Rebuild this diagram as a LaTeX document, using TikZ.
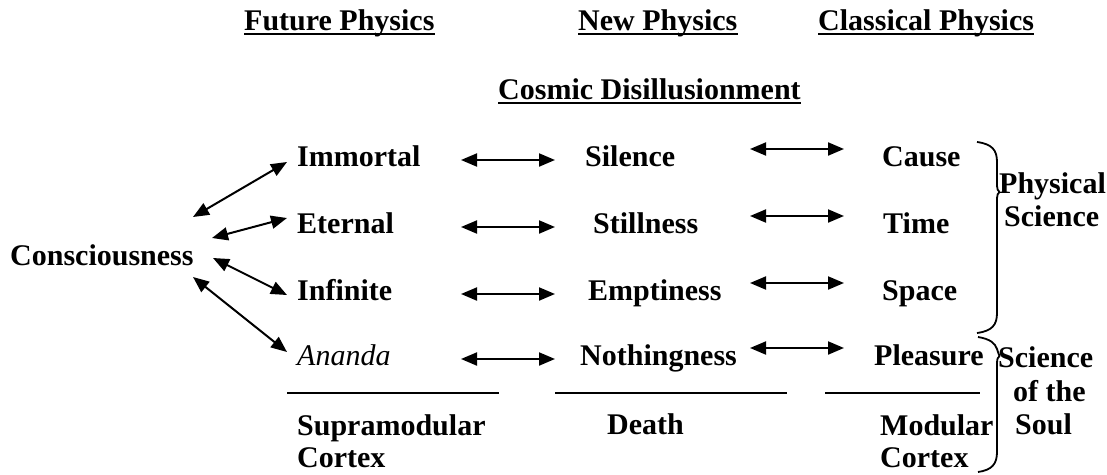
\documentclass[tikz,border=0pt]{standalone}
\usepackage{fontspec}
\setmainfont{Liberation Serif}
\usetikzlibrary{arrows.meta}
\begin{document}
\begin{tikzpicture}[x=1pt,y=-1pt,
  lbl/.style={anchor=base west,inner sep=0pt,font=\fontsize{30}{34}\selectfont\bfseries},
  ital/.style={anchor=base west,inner sep=0pt,font=\fontsize{30}{34}\selectfont\itshape},
  dbl/.style={line width=2pt,{Triangle[length=16pt,width=13pt]}-{Triangle[length=16pt,width=13pt]}},
  rule/.style={line width=2.2pt},
  brace/.style={line width=1.8pt,line join=round}]
\useasboundingbox (0,0) rectangle (1107,474);
% headers
\node[lbl] (fp) at (244,30) {Future Physics};
\node[lbl] (np) at (578,30) {New Physics};
\node[lbl] (cp) at (818,30) {Classical Physics};
\node[lbl] (cd) at (498,99) {Cosmic Disillusionment};
\foreach \n in {fp,np,cp,cd}{
  \draw[rule] ([yshift=-4pt]\n.base west) -- ([yshift=-4pt]\n.base east);}
% consciousness
\node[lbl] (con) at (10,265) {Consciousness};
% column 1
\node[lbl] (imm) at (297,166) {Immortal};
\node[lbl] (ete) at (297,233) {Eternal};
\node[lbl] (inf) at (297,300) {Infinite};
\node[ital] (ana) at (297,365) {Ananda};
% column 2
\node[lbl] (sil) at (585,166) {Silence};
\node[lbl] (sti) at (593,233) {Stillness};
\node[lbl] (emp) at (588,300) {Emptiness};
\node[lbl] (not) at (580,365) {Nothingness};
% column 3
\node[lbl] (cau) at (882,166) {Cause};
\node[lbl] (tim) at (883,233) {Time};
\node[lbl] (spa) at (882,300) {Space};
\node[lbl] (ple) at (874,365) {Pleasure};
% arrows consciousness
\coordinate (c1) at (193,217); \coordinate (e1) at (287,162);
\coordinate (c2) at (212,238); \coordinate (e2) at (287,218);
\coordinate (c3) at (213,258); \coordinate (e3) at (287,295);
\coordinate (c4) at (193,277); \coordinate (e4) at (287,352);
\draw[dbl] (c1) -- (e1);
\draw[dbl] (c2) -- (e2);
\draw[dbl] (c3) -- (e3);
\draw[dbl] (c4) -- (e4);
% horizontal arrows
\foreach \r/\y in {1/166,2/233,3/300,4/365}{
  \coordinate (l\r a) at (461,\y-6); \coordinate (l\r b) at (555,\y-6);
  \coordinate (r\r a) at (750,\y-17); \coordinate (r\r b) at (844,\y-17);
  \draw[dbl] (l\r a) -- (l\r b);
  \draw[dbl] (r\r a) -- (r\r b);}
% rules
\coordinate (h1a) at (287,393); \coordinate (h1b) at (499,393);
\coordinate (h2a) at (555,393); \coordinate (h2b) at (787,393);
\coordinate (h3a) at (825,393); \coordinate (h3b) at (980,393);
\draw[rule] (h1a) -- (h1b);
\draw[rule] (h2a) -- (h2b);
\draw[rule] (h3a) -- (h3b);
% bottom labels
\node[lbl] (sup) at (297,435) {Supramodular};
\node[lbl] (sco) at (297,467) {Cortex};
\node[lbl] (dea) at (607,434) {Death};
\node[lbl] (mod) at (880,435) {Modular};
\node[lbl] (mco) at (880,467) {Cortex};
% braces
\draw[brace] (977,142) .. controls (992,144) and (997,150) .. (997,162)
  -- (997,186) .. controls (997,189) and (998,191) .. (999.5,192)
  .. controls (998,193) and (997,195) .. (997,198)
  -- (997,313) .. controls (997,325) and (992,331) .. (977,333);
\draw[brace] (978,337) .. controls (990,339) and (995,343) .. (997,349)
  .. controls (998,352) and (998.5,354) .. (999.5,356)
  .. controls (998,357) and (997,359) .. (997,363)
  -- (997,452) .. controls (997,464) and (992,470) .. (978,472);
% side labels
\node[lbl] (phy) at (999,193) {Physical};
\node[lbl] (sci) at (1004,226) {Science};
\node[lbl] (ss1) at (998,367) {Science};
\node[lbl] (ss2) at (1013,401) {of the};
\node[lbl] (ss3) at (1015,434) {Soul};
\end{tikzpicture}
\end{document}
